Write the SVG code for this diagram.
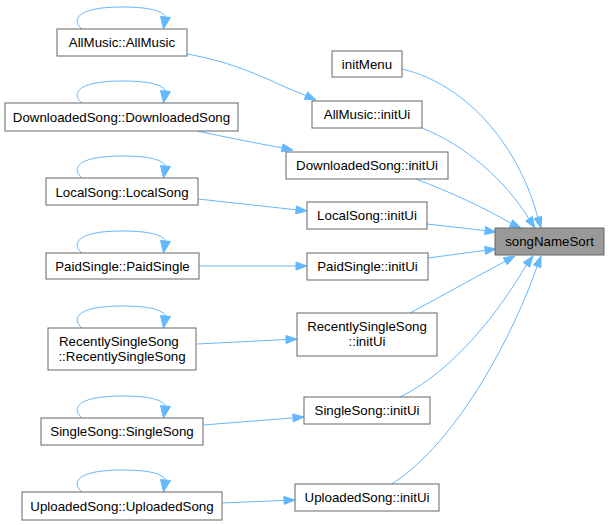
<svg xmlns="http://www.w3.org/2000/svg" xmlns:xlink="http://www.w3.org/1999/xlink" width="610" height="525" viewBox="0 0 610 525">
<style>
.node rect{fill:#ffffff;stroke:#666666;stroke-width:1}
.node.hl rect{fill:#999999}
.node text{font-family:"Liberation Sans",Arial,Helvetica,sans-serif;font-size:13.3px;fill:#000000;text-anchor:middle}
.edge path{fill:none;stroke:#63b8ff;stroke-width:1}
.edge polygon{fill:#63b8ff;stroke:#63b8ff;stroke-width:1}
</style>
<defs>
<g id="loop" class="edge">
<path d="M82,0 C72,-8 74,-22 122,-22 C150,-22 163,-18 165.5,-12"/>
<polygon points="160.5,-12.5 170.5,-11.5 163.5,0"/>
</g>
</defs>
<rect x="0" y="0" width="610" height="525" fill="#ffffff"/>
<g id="connectors">
<g class="edge"><use xlink:href="#loop" href="#loop" y="29"/></g>
<g class="edge"><use xlink:href="#loop" href="#loop" y="103"/></g>
<g class="edge"><use xlink:href="#loop" href="#loop" y="178"/></g>
<g class="edge"><use xlink:href="#loop" href="#loop" y="253"/></g>
<g class="edge"><use xlink:href="#loop" href="#loop" y="328"/></g>
<g class="edge"><use xlink:href="#loop" href="#loop" y="418"/></g>
<g class="edge"><use xlink:href="#loop" href="#loop" y="492"/></g>

<g class="edge"><path d="M187,54 C230,62 250,72 270,80 C282,86 294,91 305.9,95.5"/><polygon points="304.3,99.2 316,100 307.6,91.9"/></g>
<g class="edge"><path d="M197,131 C225,137 255,143 282.2,147.9"/><polygon points="281.4,151.8 293,150 283,144"/></g>
<g class="edge"><path d="M198,199 L296.1,209.8"/><polygon points="295.6,213.8 307,211 296.5,205.8"/></g>
<g class="edge"><path d="M199,266 L296,266"/><polygon points="296,262 307,266 296,270"/></g>
<g class="edge"><path d="M197,344 L286,339.55"/><polygon points="286.2,343.55 297,339 285.8,335.55"/></g>
<g class="edge"><path d="M203,425 L293,417.9"/><polygon points="293.3,421.9 304,417 292.7,413.9"/></g>
<g class="edge"><path d="M222,503 L284,500.45"/><polygon points="284.2,504.45 295,500 283.8,496.45"/></g>

<g class="edge"><path d="M402,69 C470,85 520,150 537.8,217.5"/><polygon points="534,218.6 541,228 541.7,216.3"/></g>
<g class="edge"><path d="M422,128 C465,145 505,180 529,218.8"/><polygon points="525.6,221 535,228 532.3,216.6"/></g>
<g class="edge"><path d="M416,179 C450,192 485,208 511,223.4"/><polygon points="509.3,227 521,228 512.7,219.8"/></g>
<g class="edge"><path d="M427,224 L485.1,230.6"/><polygon points="484.6,234.6 496,232 485.6,226.6"/></g>
<g class="edge"><path d="M428,258 L485.1,250.4"/><polygon points="485.6,254.4 496,249 484.6,246.4"/></g>
<g class="edge"><path d="M410,313 L505.3,261.2"/><polygon points="507.2,264.8 515,256 503.4,257.7"/></g>
<g class="edge"><path d="M400,397 C455,370 500,310 526.4,264.8"/><polygon points="529.6,267.2 533,256 523.2,262.4"/></g>
<g class="edge"><path d="M392,484 C460,440 515,330 537.2,266.3"/><polygon points="540.9,267.7 541,256 533.4,264.9"/></g>
</g>

<g id="node-allmusic-ctor" class="node"><rect x="57" y="29" width="130" height="27"/><text x="122" y="47">AllMusic::AllMusic</text></g>
<g id="node-downloaded-ctor" class="node"><rect x="5" y="103" width="233" height="28"/><text x="121.5" y="122">DownloadedSong::DownloadedSong</text></g>
<g id="node-local-ctor" class="node"><rect x="46" y="178" width="152" height="27"/><text x="122" y="196.5">LocalSong::LocalSong</text></g>
<g id="node-paid-ctor" class="node"><rect x="46" y="253" width="153" height="26"/><text x="122.5" y="271">PaidSingle::PaidSingle</text></g>
<g id="node-recent-ctor" class="node"><rect x="48" y="328" width="148" height="42"/><text x="59" y="345.5" style="text-anchor:start">RecentlySingleSong</text><text x="122" y="360.5">::RecentlySingleSong</text></g>
<g id="node-single-ctor" class="node"><rect x="41" y="418" width="162" height="27"/><text x="122" y="436">SingleSong::SingleSong</text></g>
<g id="node-uploaded-ctor" class="node"><rect x="22" y="492" width="200" height="28"/><text x="122" y="511">UploadedSong::UploadedSong</text></g>

<g id="node-initmenu" class="node"><rect x="332" y="51" width="70" height="26"/><text x="367" y="68.5">initMenu</text></g>
<g id="node-allmusic-initui" class="node"><rect x="312" y="101" width="110" height="27"/><text x="367" y="119">AllMusic::initUi</text></g>
<g id="node-downloaded-initui" class="node"><rect x="286" y="152" width="162" height="27"/><text x="367" y="170">DownloadedSong::initUi</text></g>
<g id="node-local-initui" class="node"><rect x="307" y="202" width="120" height="27"/><text x="367" y="220">LocalSong::initUi</text></g>
<g id="node-paid-initui" class="node"><rect x="307" y="253" width="121" height="27"/><text x="367.5" y="271">PaidSingle::initUi</text></g>
<g id="node-recent-initui" class="node"><rect x="297" y="313" width="140" height="43"/><text x="367" y="331">RecentlySingleSong</text><text x="367" y="346">::initUi</text></g>
<g id="node-single-initui" class="node"><rect x="304" y="397" width="126" height="27"/><text x="367" y="415">SingleSong::initUi</text></g>
<g id="node-uploaded-initui" class="node"><rect x="295" y="484" width="144" height="27"/><text x="367" y="502">UploadedSong::initUi</text></g>

<g id="node-songnamesort" class="node hl"><rect x="495" y="228" width="109" height="27"/><text x="549.5" y="246">songNameSort</text></g>
</svg>
